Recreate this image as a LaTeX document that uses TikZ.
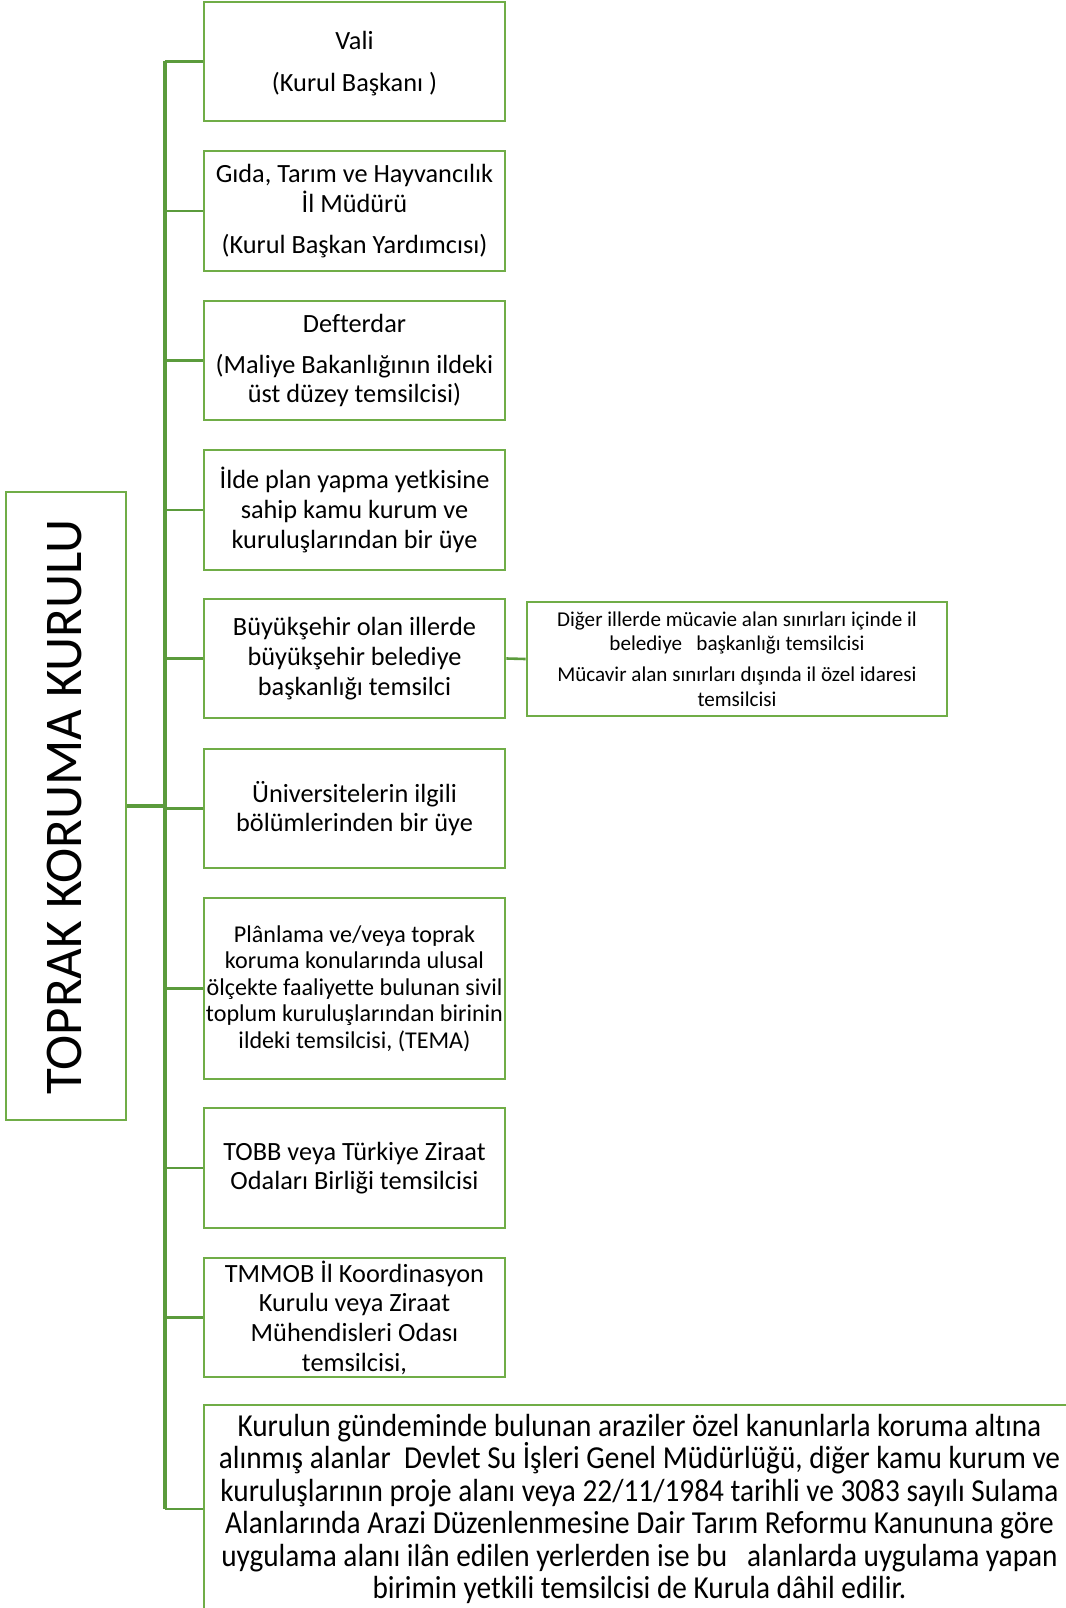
\documentclass[tikz,border=0pt]{standalone}
\usepackage{fontspec}
\setmainfont{Carlito}[Ligatures=NoCommon]
\newfontfamily\narrowfont{Carlito}[FakeStretch=0.915,Ligatures=NoCommon]
\definecolor{boxgreen}{HTML}{70AD47}
\definecolor{linegreen}{HTML}{5B9B3C}
\begin{document}
\begin{tikzpicture}[x=1pt,y=-1pt,
  member/.style={draw=boxgreen,line width=2.8pt,fill=white,rectangle,inner sep=0pt,
    minimum width=301pt,text width=300pt,align=flush center,
    font=\fontsize{26.3}{29.7}\selectfont},
  small/.style={font=\fontsize{24.1}{26.4}\selectfont},
  sidebox/.style={draw=boxgreen,line width=2.8pt,fill=white,rectangle,inner sep=0pt,
    minimum width=420pt,minimum height=114pt,text width=415pt,align=flush center,
    font=\fontsize{21.1}{24.6}\selectfont},
  trunk/.style={draw=linegreen,line width=3.5pt},
  branch/.style={draw=linegreen,line width=2.6pt}]
\useasboundingbox (0,0) rectangle (1065,1608);
\fill[white] (0,0) rectangle (1065,1608);

% trunk
\coordinate (ttop) at (165,61.5);
\coordinate (tbot) at (165,1509);

\node[member,minimum height=119pt] (b1) at (354.5,61.5) {\rule{0pt}{22pt}Vali\\[12pt](Kurul Başkanı )};
\node[member,minimum height=120pt] (b2) at (354.5,211) {Gıda, Tarım ve Hayvancılık\\İl Müdürü\\[11pt](Kurul Başkan Yardımcısı)};
\node[member,minimum height=119pt] (b3) at (354.5,360.5) {Defterdar\\[11pt](Maliye Bakanlığının ildeki\\üst düzey temsilcisi)};
\node[member,minimum height=120pt] (b4) at (354.5,510) {İlde plan yapma yetkisine\\sahip kamu kurum ve\\kuruluşlarından bir üye};
\node[member,minimum height=119pt] (b5) at (354.5,658.5) {Büyükşehir olan illerde\\büyükşehir belediye\\başkanlığı temsilci};
\node[member,minimum height=119pt] (b6) at (354.5,808.5) {Üniversitelerin ilgili\\bölümlerinden bir üye};
\node[member,small,minimum height=181pt] (b7) at (354.5,988.5) {Plânlama ve/veya toprak\\koruma konularında ulusal\\ölçekte faaliyette bulunan sivil\\toplum kuruluşlarından birinin\\ildeki temsilcisi, (TEMA)};
\node[member,minimum height=120pt] (b8) at (354.5,1168) {TOBB veya Türkiye Ziraat\\Odaları Birliği temsilcisi};
\node[member,minimum height=119pt] (b9) at (354.5,1317.5) {TMMOB İl Koordinasyon\\Kurulu veya Ziraat\\Mühendisleri Odası\\temsilcisi,};
\node[draw=boxgreen,line width=2.8pt,fill=white,rectangle,inner sep=0pt,
  minimum width=871pt,minimum height=208pt,text width=866pt,align=flush center,
  font=\narrowfont\fontsize{32}{32.4}\selectfont] (b10) at (639.5,1509)
  {Kurulun gündeminde bulunan araziler özel kanunlarla koruma altına\\
   alınmış alanlar\ \ Devlet Su İşleri Genel Müdürlüğü, diğer kamu kurum ve\\
   kuruluşlarının proje alanı veya 22/11/1984 tarihli ve 3083 sayılı Sulama\\
   Alanlarında Arazi Düzenlenmesine Dair Tarım Reformu Kanununa göre\\
   uygulama alanı ilân edilen yerlerden ise bu\ \ \ alanlarda uygulama yapan\\
   birimin yetkili temsilcisi de Kurula dâhil edilir.};

\node[sidebox] (side) at (737,659) {Diğer illerde mücavie alan sınırları içinde il\\belediye\ \ \ başkanlığı temsilcisi\\[6pt]Mücavir alan sınırları dışında il özel idaresi\\temsilcisi};

\node[draw=boxgreen,line width=2.8pt,fill=white,rectangle,inner sep=0pt,
  minimum width=120pt,minimum height=628pt] (root) at (66,806) {};
\node[rotate=90,font=\fontsize{53}{60}\selectfont,inner sep=0pt] (roottext) at (64,807) {TOPRAK KORUMA KURULU};

\draw[trunk] (ttop) -- (tbot);
\draw[trunk] (root.east) -- (root.east -| ttop);
\foreach \b in {b1,b2,b3,b4,b5,b6,b7,b8,b9,b10}
  \draw[branch] (\b.west -| ttop) -- (\b.west);
\draw[branch] (b5.east) -- (side.west);
\end{tikzpicture}
\end{document}
